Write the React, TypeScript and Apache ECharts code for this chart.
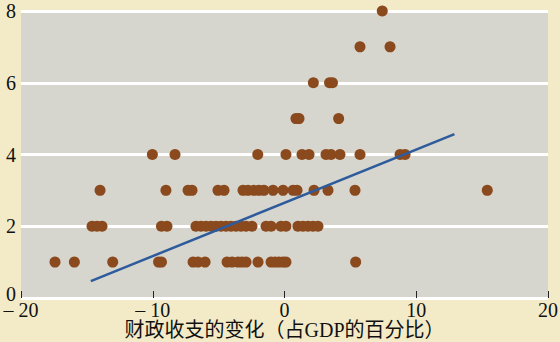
import React, { useEffect, useRef } from "react";
import * as echarts from "echarts";

// Scatter data: rows by y value (count), x = change in fiscal balance (% of GDP)
const row1X = [-17.42, -15.95, -13.04, -9.56, -9.34, -6.94, -6.57, -6.03, -4.36, -3.98, -3.53, -3.23, -2.92, -2.01, -1.02, -0.72, -0.42, -0.11, 0.11, 5.4];
const row2X = [-14.61, -14.23, -13.85, -9.34, -8.92, -6.72, -6.34, -5.96, -5.58, -5.2, -4.82, -4.44, -4.06, -3.68, -3.3, -2.92, -2.47, -1.4, -1.02, -0.27, 0.11, 1.02, 1.4, 1.78, 2.16, 2.54];
const row3X = [-14.0, -9.0, -7.32, -7.02, -5.05, -4.59, -3.15, -2.77, -2.32, -1.94, -1.56, -0.87, -0.11, 0.65, 0.95, 2.24, 3.3, 5.35, 15.39];
const row4X = [-10.03, -8.31, -2.03, 0.11, 1.33, 1.86, 3.15, 3.53, 4.21, 5.73, 8.77, 9.15];
const row5X = [0.87, 1.1, 4.11];
const row6X = [2.19, 3.42, 3.64];
const row7X = [5.73, 8.01];
const row8X = [7.42];
const rowValues = [1, 2, 3, 4, 5, 6, 7, 8];

// Fitted trend line endpoints
const trendX = [-14.7, 12.9];
const trendY = [0.47, 4.57];

const xTicks = [-20, -10, 0, 10, 20];
const yTicks = [0, 2, 4, 6, 8];
const xTitle = "财政收支的变化（占GDP的百分比）";

export default function App() {
  const ref = useRef<HTMLDivElement>(null);
  useEffect(() => {
    if (!ref.current) return;
    const chart = echarts.init(ref.current, null, { renderer: "svg" });
    const rows = [row1X, row2X, row3X, row4X, row5X, row6X, row7X, row8X];
    const points: number[][] = [];
    rows.forEach((r, i) => r.forEach((x) => points.push([x, rowValues[i]])));
    const serif = "'Liberation Serif', 'Times New Roman', serif";
    chart.setOption({
      animation: false,
      backgroundColor: "#F3EBC7",
      grid: {
        left: 21,
        right: 12,
        top: 11,
        bottom: 44,
        containLabel: false,
        outerBoundsMode: "none",
        show: true,
        backgroundColor: "#D7D6CE",
        borderWidth: 0,
      },
      xAxis: {
        type: "value",
        min: xTicks[0],
        max: xTicks[xTicks.length - 1],
        interval: 10,
        axisLine: { show: false },
        axisTick: { show: true, inside: true, length: 7, lineStyle: { color: "#222", width: 1 } },
        splitLine: { show: false },
        axisLabel: {
          color: "#111",
          fontFamily: serif,
          fontSize: 20,
          margin: 2,
          formatter: (v: number) => (v < 0 ? "\u2013 " + Math.abs(v) : String(v)),
        },
        name: xTitle,
        nameLocation: "middle",
        nameGap: 32,
        nameMoveOverlap: false,
        nameTextStyle: {
          color: "#111",
          fontFamily: "'Liberation Serif', 'Noto Sans CJK SC', serif",
          fontSize: 20,
          verticalAlign: "middle",
        },
      },
      yAxis: {
        type: "value",
        min: yTicks[0],
        max: yTicks[yTicks.length - 1],
        interval: 2,
        axisLine: { show: false },
        axisTick: { show: false },
        splitLine: { show: true, lineStyle: { color: "#FFFFFF", width: 3 } },
        axisLabel: {
          color: "#111",
          fontFamily: serif,
          fontSize: 20,
          margin: 5,
          formatter: (v: number) => (v === 0 ? "{zero|0}" : String(v)),
          rich: {
            zero: { fontFamily: serif, fontSize: 20, color: "#111", padding: [0, 0, 8, 0] },
          },
        },
      },
      series: [
        {
          type: "scatter",
          data: points,
          symbolSize: 11,
          itemStyle: { color: "#8B4A1D", opacity: 1 },
          z: 3,
        },
        {
          type: "line",
          data: trendX.map((x, i) => [x, trendY[i]]),
          showSymbol: false,
          symbol: "none",
          lineStyle: { color: "#2D5B9C", width: 2.5 },
          z: 4,
        },
      ],
    });
    return () => chart.dispose();
  }, []);
  return (
    <div
      ref={ref}
      style={{ position: "fixed", left: 0, top: 0, width: 560, height: 342 }}
    />
  );
}
